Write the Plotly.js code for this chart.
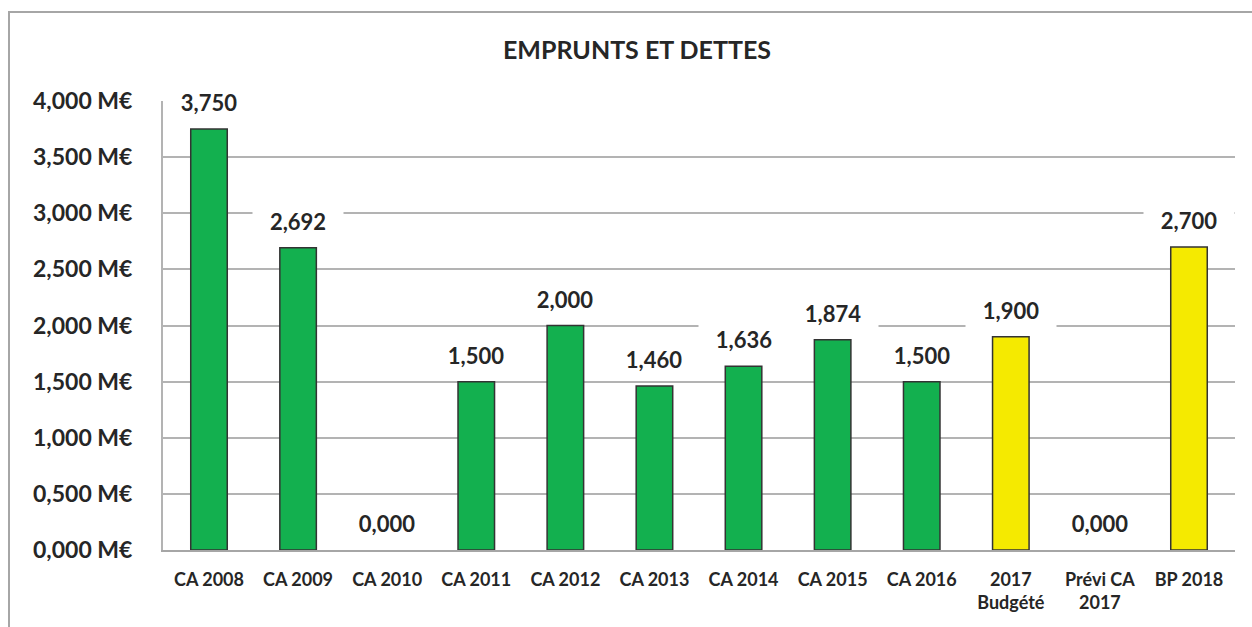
<!DOCTYPE html>
<html><head><meta charset="utf-8">
<script src="https://cdn.plot.ly/plotly-3.0.1.min.js"></script>
<style>html,body{margin:0;padding:0;background:#fff}#chart{width:1252px;height:627px}</style>
</head><body><div id="chart"></div>
<script>
const categories = ["CA 2008","CA 2009","CA 2010","CA 2011","CA 2012","CA 2013","CA 2014","CA 2015","CA 2016","2017<br>Budgété","Prévi CA<br>2017","BP 2018"];
const values = [3.750, 2.692, 0.000, 1.500, 2.000, 1.460, 1.636, 1.874, 1.500, 1.900, 0.000, 2.700];
const kinds = ["réalisé","réalisé","réalisé","réalisé","réalisé","réalisé","réalisé","réalisé","réalisé","budget","prévision","budget"];
const yTickValues = [0, 0.5, 1, 1.5, 2, 2.5, 3, 3.5, 4];

const FONT = "Lato, 'Open Sans', sans-serif";
const TEXT = "#262626";
const kindColor = {"réalisé": "#13b04f", "budget": "#f5ea00", "prévision": "#f5ea00"};
const fmt = v => v.toFixed(3).replace(".", ",");

const trace = {
  type: "bar",
  x: categories,
  y: values,
  width: 0.41,
  marker: {
    color: kinds.map(k => kindColor[k]),
    line: {color: "#333333", width: values.map(v => v > 0 ? 1.5 : 0)}
  },
  hoverinfo: "x+y"
};

const annotations = categories.map((c, i) => ({
  x: c, y: values[i], xref: "x", yref: "y",
  text: fmt(values[i]),
  showarrow: false,
  yanchor: "middle", xanchor: "center",
  yshift: 27,
  width: 88, height: 34,
  bgcolor: "#ffffff",
  font: {family: FONT, size: 22, color: TEXT, weight: 700}
}));

const layout = {
  width: 1252, height: 627,
  margin: {l: 163, r: 17, t: 101, b: 77},
  paper_bgcolor: "#ffffff", plot_bgcolor: "#ffffff",
  showlegend: false,
  title: {
    text: "EMPRUNTS ET DETTES",
    x: 637/1252, xref: "container", xanchor: "center",
    y: 1 - 50/627, yref: "container", yanchor: "middle",
    font: {family: FONT, size: 25, color: TEXT, weight: 700}
  },
  xaxis: {
    type: "category",
    showgrid: false, zeroline: false,
    showline: true, linecolor: "#a6a6a6", linewidth: 2,
    ticks: "", ticklabelstandoff: 12,
    tickfont: {family: FONT, size: 18, color: TEXT, weight: 700},
    fixedrange: true
  },
  yaxis: {
    range: [0, 4],
    tickvals: yTickValues,
    ticktext: yTickValues.map(v => fmt(v) + " M€"),
    showgrid: true, gridcolor: "#b3b3b3", gridwidth: 2,
    zeroline: false,
    showline: true, linecolor: "#b3b3b3", linewidth: 2,
    ticks: "", ticklabelstandoff: 24,
    tickfont: {family: FONT, size: 23, color: TEXT, weight: 700},
    fixedrange: true
  },
  annotations: annotations,
  shapes: [{
    type: "rect", xref: "paper", yref: "paper",
    x0: (9 - 163)/1072, x1: 1.05,
    y0: -0.3, y1: (550 - 12)/449,
    line: {color: "#a6a6a6", width: 2},
    fillcolor: "rgba(0,0,0,0)", layer: "below"
  }]
};

Plotly.newPlot("chart", [trace], layout, {displayModeBar: false, staticPlot: true});
</script>
</body></html>
